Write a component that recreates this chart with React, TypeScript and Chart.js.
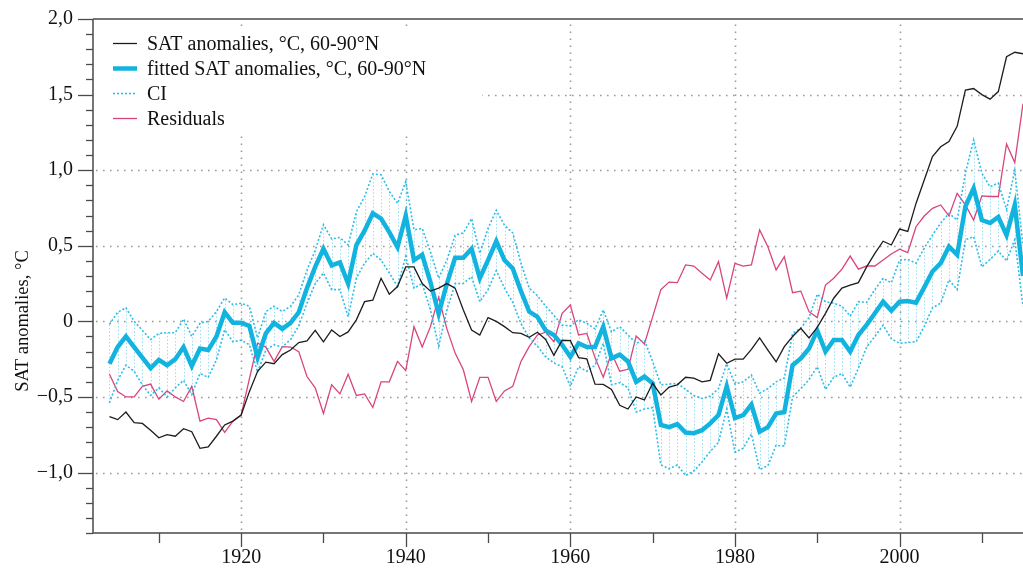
import React, { useEffect, useRef } from 'react';
import { Chart, registerables } from 'chart.js';

Chart.register(...registerables);

const START_YEAR = 1904;

const satAnomalies = [
  -0.63, -0.65, -0.60, -0.67, -0.675, -0.72, -0.77, -0.75, -0.76, -0.71,
  -0.73, -0.84, -0.83, -0.76, -0.685, -0.66, -0.62, -0.465, -0.33, -0.27,
  -0.28, -0.22, -0.19, -0.14, -0.13, -0.06, -0.135, -0.057, -0.10, -0.07,
  0.01, 0.13, 0.14, 0.285, 0.18, 0.23, 0.36, 0.36, 0.25, 0.20,
  0.22, 0.25, 0.22, 0.075, -0.057, -0.09, 0.025, 0.0, -0.035, -0.075,
  -0.08, -0.105, -0.072, -0.12, -0.225, -0.125, -0.128, -0.24, -0.248, -0.415,
  -0.417, -0.45, -0.555, -0.58, -0.50, -0.52, -0.41, -0.487, -0.435, -0.42,
  -0.37, -0.376, -0.40, -0.39, -0.215, -0.277, -0.25, -0.25, -0.185, -0.11,
  -0.19, -0.267, -0.167, -0.10, -0.046, -0.11, -0.04, 0.053, 0.153, 0.22,
  0.24, 0.256, 0.36, 0.45, 0.53, 0.505, 0.61, 0.595, 0.78, 0.935,
  1.09, 1.155, 1.19, 1.29, 1.53, 1.54, 1.50, 1.47, 1.52, 1.75,
  1.78, 1.77,
];

const fittedAnomalies = [
  -0.28, -0.17, -0.10, -0.17, -0.24, -0.31, -0.255, -0.29, -0.25, -0.17,
  -0.295, -0.18, -0.19, -0.10, 0.06, -0.01, -0.01, -0.03, -0.24, -0.08,
  -0.01, -0.05, -0.01, 0.06, 0.22, 0.36, 0.48, 0.37, 0.39, 0.25,
  0.505, 0.60, 0.715, 0.68, 0.59, 0.49, 0.70, 0.405, 0.44, 0.26,
  0.05, 0.25, 0.42, 0.42, 0.48, 0.285, 0.405, 0.53, 0.405, 0.35,
  0.20, 0.065, 0.03, -0.06, -0.09, -0.155, -0.235, -0.145, -0.17, -0.17,
  -0.035, -0.245, -0.22, -0.265, -0.40, -0.365, -0.41, -0.685, -0.70, -0.68,
  -0.735, -0.74, -0.72, -0.675, -0.62, -0.43, -0.64, -0.62, -0.55, -0.73,
  -0.70, -0.61, -0.60, -0.29, -0.245, -0.18, -0.06, -0.20, -0.123, -0.123,
  -0.20, -0.09, -0.024, 0.054, 0.13, 0.07, 0.13, 0.135, 0.124, 0.225,
  0.33, 0.385, 0.495, 0.44, 0.76, 0.88, 0.67, 0.65, 0.69, 0.57,
  0.77, 0.30,
];

const ciUpper = [
  -0.02, 0.06, 0.09, 0.0, -0.06, -0.12, -0.08, -0.075, -0.075, 0.015,
  -0.10, -0.013, 0.0, 0.065, 0.155, 0.11, 0.12, 0.10, -0.11, 0.065,
  0.10, 0.065, 0.10, 0.175, 0.34, 0.47, 0.64, 0.545, 0.555, 0.505,
  0.725, 0.825, 0.975, 0.97, 0.86, 0.78, 0.925, 0.605, 0.615, 0.46,
  0.285, 0.405, 0.57, 0.585, 0.68, 0.45, 0.615, 0.735, 0.635, 0.585,
  0.385, 0.22, 0.17, 0.10, 0.04, -0.025, -0.03, 0.01, -0.013, -0.05,
  0.075, -0.07, -0.035, -0.09, -0.145, -0.125, -0.265, -0.42, -0.415, -0.41,
  -0.45, -0.49, -0.51, -0.495, -0.445, -0.28, -0.415, -0.40, -0.355, -0.475,
  -0.445, -0.40, -0.375, -0.08, -0.045, 0.025, 0.18, 0.13, 0.12, 0.10,
  0.035, 0.13, 0.125, 0.21, 0.285, 0.255, 0.405, 0.41, 0.385, 0.485,
  0.57, 0.65, 0.715, 0.67, 0.98, 1.20, 0.98, 0.89, 0.915, 0.74,
  1.00, 0.50,
];

const ciLower = [
  -0.54, -0.39, -0.29, -0.33, -0.42, -0.49, -0.44, -0.50, -0.44, -0.39,
  -0.485, -0.345, -0.37, -0.255, -0.055, -0.135, -0.125, -0.155, -0.335, -0.19,
  -0.155, -0.17, -0.12, -0.03, 0.12, 0.25, 0.32, 0.21, 0.21, 0.03,
  0.285, 0.385, 0.45, 0.405, 0.32, 0.23, 0.43, 0.22, 0.25, 0.075,
  -0.165, 0.075, 0.25, 0.25, 0.295, 0.13, 0.21, 0.335, 0.22, 0.125,
  -0.015, -0.11, -0.165, -0.235, -0.275, -0.30, -0.43, -0.30, -0.33, -0.29,
  -0.145, -0.42, -0.405, -0.44, -0.60, -0.58, -0.57, -0.95, -0.975, -0.95,
  -1.02, -0.99, -0.93, -0.86, -0.80, -0.58, -0.865, -0.84, -0.745, -0.98,
  -0.955, -0.82, -0.825, -0.50, -0.445, -0.385, -0.30, -0.45, -0.37, -0.345,
  -0.435, -0.31, -0.17, -0.10, -0.025, -0.115, -0.145, -0.14, -0.135, -0.035,
  0.09, 0.12, 0.275, 0.21, 0.54, 0.56, 0.36, 0.41, 0.465, 0.40,
  0.54, 0.10,
];

const residuals = [
  -0.35, -0.465, -0.50, -0.50, -0.43, -0.415, -0.515, -0.46, -0.50, -0.53,
  -0.43, -0.66, -0.64, -0.65, -0.735, -0.66, -0.62, -0.38, -0.145, -0.17,
  -0.265, -0.167, -0.17, -0.20, -0.365, -0.44, -0.61, -0.42, -0.48, -0.35,
  -0.49, -0.48, -0.57, -0.40, -0.40, -0.265, -0.326, -0.035, -0.17, -0.035,
  0.16, -0.05, -0.21, -0.32, -0.53, -0.37, -0.37, -0.53, -0.46, -0.43,
  -0.265, -0.167, -0.09, -0.072, -0.134, 0.053, 0.108, -0.09, -0.08, -0.24,
  -0.37, -0.21, -0.33, -0.317, -0.097, -0.15, 0.03, 0.21, 0.26, 0.256,
  0.373, 0.366, 0.318, 0.274, 0.395, 0.153, 0.384, 0.366, 0.373, 0.605,
  0.494, 0.34, 0.428, 0.19, 0.20, 0.064, 0.025, 0.24, 0.285, 0.345,
  0.432, 0.345, 0.366, 0.366, 0.406, 0.446, 0.477, 0.455, 0.626, 0.697,
  0.748, 0.77, 0.697, 0.847, 0.77, 0.67, 0.83, 0.826, 0.826, 1.173,
  1.05, 1.44,
];

const years = satAnomalies.map((_, i) => START_YEAR + i);

const xLabelTicks = [1920, 1940, 1960, 1980, 2000];
const yLabelTicks = [-1.0, -0.5, 0, 0.5, 1.0, 1.5, 2.0];
const xGridValues = [1920, 1940, 1960, 1980, 2000];
const yGridValues = [-1.0, -0.5, 0, 0.5, 1.0, 1.5];

const legendLabels = [
  'SAT anomalies, °C, 60-90°N',
  'fitted SAT anomalies, °C, 60-90°N',
  'CI',
  'Residuals',
];
const yTitle = 'SAT anomalies, °C';

const FONT = "'Liberation Serif', 'Times New Roman', Times, serif";
const C_SAT = '#1c1c1c';
const C_FIT = '#12b3df';
const C_CI = '#2dbde8';
const C_RES = '#d9447e';
const C_AXIS = '#4a4a4a';

const toXY = (vals: number[]) => vals.map((v, i) => ({ x: years[i], y: v }));

const fmtY = (v: number) => {
  if (Math.abs(v) < 1e-9) return '0';
  const s = Math.abs(v).toFixed(1).replace('.', ',');
  return v < 0 ? '\u2212' + s : s;
};

const decorPlugin = {
  id: 'decor',
  beforeDatasetsDraw(chart: any) {
    const { ctx, chartArea, scales } = chart;
    const xs = scales.x;
    const ys = scales.y;
    ctx.save();
    // dotted grid
    ctx.strokeStyle = '#9b9b9b';
    ctx.lineWidth = 1.6;
    ctx.setLineDash([1.6, 5.4]);
    for (const v of yGridValues) {
      const py = Math.round(ys.getPixelForValue(v)) + 0.5;
      ctx.beginPath();
      ctx.moveTo(chartArea.left + 3, py);
      ctx.lineTo(chartArea.right, py);
      ctx.stroke();
    }
    for (const v of xGridValues) {
      const px = Math.round(xs.getPixelForValue(v)) + 0.5;
      ctx.beginPath();
      ctx.moveTo(px, chartArea.bottom - 3);
      ctx.lineTo(px, chartArea.top + 4);
      ctx.stroke();
    }
    // CI hatching
    ctx.strokeStyle = 'rgba(70,195,235,0.55)';
    ctx.lineWidth = 1;
    ctx.setLineDash([1.5, 2]);
    for (let i = 0; i < years.length; i++) {
      const px = Math.round(xs.getPixelForValue(years[i])) + 0.5;
      ctx.beginPath();
      ctx.moveTo(px, ys.getPixelForValue(ciLower[i]));
      ctx.lineTo(px, ys.getPixelForValue(ciUpper[i]));
      ctx.stroke();
    }
    // legend background
    ctx.setLineDash([]);
    ctx.fillStyle = '#ffffff';
    ctx.fillRect(chartArea.left + 1, 28, 388, 105);
    ctx.restore();
  },
  afterDraw(chart: any) {
    const { ctx, chartArea, scales } = chart;
    const xs = scales.x;
    const ys = scales.y;
    const { left, right, top, bottom } = chartArea;
    ctx.save();
    ctx.strokeStyle = C_AXIS;
    ctx.lineWidth = 1.5;
    ctx.setLineDash([]);
    // frame lines
    ctx.beginPath();
    ctx.moveTo(left, top);
    ctx.lineTo(right, top);
    ctx.moveTo(left, top);
    ctx.lineTo(left, bottom);
    ctx.lineTo(right, bottom);
    ctx.stroke();
    // y ticks
    ctx.lineWidth = 1.3;
    for (let k = -14; k <= 20; k++) {
      const py = Math.round(ys.getPixelForValue(k / 10)) + 0.5;
      const len = k % 5 === 0 ? 15 : 7;
      ctx.beginPath();
      ctx.moveTo(left - len, py);
      ctx.lineTo(left, py);
      ctx.stroke();
    }
    // x ticks
    for (let yr = 1910; yr <= 2010; yr += 10) {
      const px = Math.round(xs.getPixelForValue(yr)) + 0.5;
      const len = yr % 20 === 0 ? 14 : 10;
      ctx.beginPath();
      ctx.moveTo(px, bottom);
      ctx.lineTo(px, bottom + len);
      ctx.stroke();
    }
    // legend
    const styles = [
      { c: C_SAT, w: 1.3, d: [] as number[] },
      { c: C_FIT, w: 4.5, d: [] as number[] },
      { c: C_CI, w: 1.6, d: [2, 2] },
      { c: C_RES, w: 1.3, d: [] as number[] },
    ];
    ctx.font = `20px ${FONT}`;
    ctx.textAlign = 'left';
    ctx.textBaseline = 'alphabetic';
    legendLabels.forEach((lab, i) => {
      const cy = 43 + i * 25;
      const st = styles[i];
      ctx.strokeStyle = st.c;
      ctx.lineWidth = st.w;
      ctx.setLineDash(st.d);
      ctx.beginPath();
      ctx.moveTo(113, cy + 0.5);
      ctx.lineTo(137, cy + 0.5);
      ctx.stroke();
      ctx.setLineDash([]);
      ctx.fillStyle = '#111';
      ctx.fillText(lab, 147, cy + 7);
    });
    // y title
    ctx.translate(28, 321);
    ctx.rotate(-Math.PI / 2);
    ctx.textAlign = 'center';
    ctx.font = `18.5px ${FONT}`;
    ctx.fillStyle = '#111';
    ctx.fillText(yTitle, 0, 0);
    ctx.restore();
  },
};

export default function App() {
  const ref = useRef<HTMLCanvasElement | null>(null);
  useEffect(() => {
    if (!ref.current) return;
    const chart = new Chart(ref.current, {
      type: 'line',
      data: {
        datasets: [
          {
            label: legendLabels[0],
            data: toXY(satAnomalies),
            borderColor: C_SAT,
            borderWidth: 1.3,
            pointRadius: 0,
            tension: 0,
          },
          {
            label: legendLabels[1],
            data: toXY(fittedAnomalies),
            borderColor: C_FIT,
            borderWidth: 4.5,
            pointRadius: 0,
            tension: 0,
            borderJoinStyle: 'miter',
          },
          {
            label: 'CI upper',
            data: toXY(ciUpper),
            borderColor: C_CI,
            borderWidth: 1.6,
            borderDash: [2, 2],
            pointRadius: 0,
            tension: 0,
          },
          {
            label: 'CI lower',
            data: toXY(ciLower),
            borderColor: C_CI,
            borderWidth: 1.6,
            borderDash: [2, 2],
            pointRadius: 0,
            tension: 0,
          },
          {
            label: legendLabels[3],
            data: toXY(residuals),
            borderColor: C_RES,
            borderWidth: 1.3,
            pointRadius: 0,
            tension: 0,
          },
        ],
      },
      options: {
        animation: false,
        responsive: false,
        devicePixelRatio: 1,
        layout: { padding: { top: 19, right: 0, left: 0, bottom: 0 } },
        plugins: {
          legend: { display: false },
          tooltip: { enabled: false },
          title: { display: false },
        },
        scales: {
          x: {
            type: 'linear',
            min: 1902,
            max: 2015,
            grid: { display: false, drawTicks: false },
            border: { display: false },
            ticks: {
              autoSkip: false,
              maxRotation: 0,
              padding: 13,
              color: '#111',
              font: { family: FONT, size: 20 },
              callback: (v: any) => String(v),
            },
            afterBuildTicks: (axis: any) => {
              axis.ticks = xLabelTicks.map((value) => ({ value }));
            },
            afterFit: (axis: any) => {
              axis.height = 35;
              axis.paddingLeft = 0;
              axis.paddingRight = 0;
            },
          },
          y: {
            type: 'linear',
            min: -1.4,
            max: 2.0,
            grid: { display: false, drawTicks: false },
            border: { display: false },
            ticks: {
              autoSkip: false,
              padding: 20,
              color: '#111',
              font: { family: FONT, size: 20 },
              callback: (v: any) => fmtY(Number(v)),
            },
            afterBuildTicks: (axis: any) => {
              axis.ticks = yLabelTicks.map((value) => ({ value }));
            },
            afterFit: (axis: any) => {
              axis.width = 93;
              axis.paddingTop = 0;
              axis.paddingBottom = 0;
            },
          },
        },
      },
      plugins: [decorPlugin],
    });
    return () => chart.destroy();
  }, []);

  return (
    <div
      style={{
        position: 'absolute',
        left: 0,
        top: 0,
        width: 1023,
        height: 568,
        background: '#ffffff',
        overflow: 'hidden',
      }}
    >
      <canvas ref={ref} width={1023} height={568} />
    </div>
  );
}
